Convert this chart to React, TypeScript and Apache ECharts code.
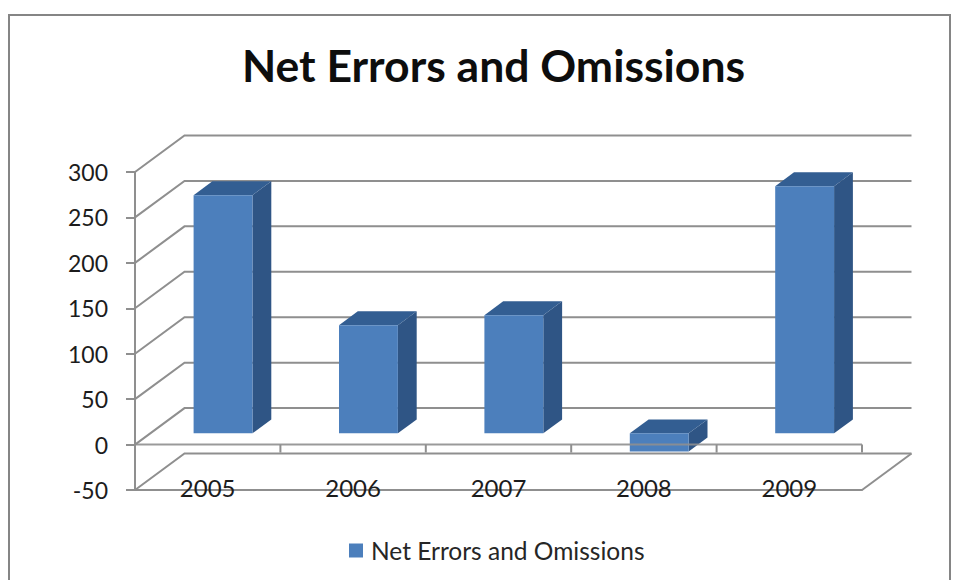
import React, { useEffect, useRef } from "react";
import * as echarts from "echarts";

const chartTitle = "Net Errors and Omissions";
const seriesName = "Net Errors and Omissions";
const years = ["2005", "2006", "2007", "2008", "2009"];
const netErrors = [262, 119, 130, -20, 272];
const axisTicks = [-50, 0, 50, 100, 150, 200, 250, 300];

const FONT = "Lato, 'Open Sans', sans-serif";
const GRID_COLOR = "#8f8f8f";
const TEXT_COLOR = "#1c1c1c";
// Oblique projection of the box: total depth, and how deep the bars sit in it.
const DEPTH_X = 49.5;
const DEPTH_Y = -36.5;
const BAR_INSET = 0.31;
const BAR_DEPTH = 0.38;
const BAR_WIDTH_RATIO = 0.405;

const lineStyle = { stroke: GRID_COLOR, lineWidth: 2, fill: "none" };

function renderWalls(params: any, api: any) {
  const cs = params.coordSys;
  const v = api.value(1);
  const y = api.coord([0, v])[1];
  const x0 = cs.x;
  const x1 = cs.x + cs.width;
  const points = [
    [x0, y],
    [x0 + DEPTH_X, y + DEPTH_Y],
    [x1 + DEPTH_X, y + DEPTH_Y],
  ];
  const children: any[] = [{ type: "polyline", shape: { points }, style: lineStyle }];
  if (v === -50) {
    children.push({
      type: "line",
      shape: { x1, y1: y, x2: x1 + DEPTH_X, y2: y + DEPTH_Y },
      style: lineStyle,
    });
  }
  return { type: "group", children };
}

function renderBar(params: any, api: any) {
  const idx = api.value(0);
  const val = api.value(1);
  const slot = api.size([1, 0])[0];
  const w = slot * BAR_WIDTH_RATIO;
  const insetX = DEPTH_X * BAR_INSET;
  const insetY = DEPTH_Y * BAR_INSET;
  const dx = DEPTH_X * BAR_DEPTH;
  const dy = DEPTH_Y * BAR_DEPTH;
  const cx = api.coord([idx, 0])[0] + insetX;
  const yZero = api.coord([idx, 0])[1] + insetY;
  const yVal = api.coord([idx, val])[1] + insetY;
  const top = Math.min(yZero, yVal);
  const bottom = Math.max(yZero, yVal);
  const l = cx - w / 2;
  const r = cx + w / 2;
  return {
    type: "group",
    children: [
      {
        type: "polygon",
        shape: { points: [[r, top], [r + dx, top + dy], [r + dx, bottom + dy], [r, bottom]] },
        style: { fill: "#2f5585" },
      },
      {
        type: "polygon",
        shape: { points: [[l, top], [l + dx, top + dy], [r + dx, top + dy], [r, top]] },
        style: { fill: "#335e92" },
      },
      {
        type: "rect",
        shape: { x: l, y: top, width: w, height: bottom - top },
        style: { fill: "#4c7fbc" },
      },
    ],
  };
}

// The front edge of the zero plane, with its category ticks, passes in front of the bars.
function renderZeroEdge(params: any, api: any) {
  const cs = params.coordSys;
  const y = api.coord([0, 0])[1];
  const slot = cs.width / years.length;
  const drop = 8;
  const children: any[] = [
    {
      type: "line",
      shape: { x1: cs.x, y1: y, x2: cs.x + cs.width, y2: y },
      style: { stroke: GRID_COLOR, lineWidth: 2, opacity: 0.9 },
    },
  ];
  for (let i = 0; i <= years.length; i++) {
    const x = cs.x + slot * i;
    children.push({
      type: "line",
      shape: { x1: x, y1: y, x2: x, y2: y + drop },
      style: { stroke: GRID_COLOR, lineWidth: 2 },
    });
  }
  return { type: "group", children };
}

export default function App() {
  const ref = useRef<HTMLDivElement>(null);

  useEffect(() => {
    document.body.style.margin = "0";
    const chart = echarts.init(ref.current!, null, { renderer: "svg" });
    chart.setOption({
      animation: false,
      backgroundColor: "#ffffff",
      textStyle: { fontFamily: FONT },
      title: {
        text: chartTitle,
        left: 488.5,
        top: 37,
        textAlign: "center",
        textStyle: { fontFamily: FONT, fontSize: 44.5, fontWeight: "bold", color: "#0d0d0d" },
      },
      legend: {
        left: 344,
        top: 533,
        icon: "rect",
        itemWidth: 14,
        itemHeight: 14,
        itemGap: 8,
        data: [seriesName],
        textStyle: { fontFamily: FONT, fontSize: 24.5, color: "#262626", padding: [0, 0, 0, 3] },
      },
      graphic: [
        {
          type: "rect",
          shape: { x: 9, y: 15, width: 941, height: 600 },
          style: { fill: "none", stroke: "#858585", lineWidth: 2 },
          silent: true,
        },
      ],
      grid: { left: 135, right: 98, top: 172, bottom: 90 },
      xAxis: {
        type: "category",
        data: years,
        axisLine: { onZero: false, lineStyle: { color: GRID_COLOR, width: 2 } },
        axisTick: { show: false },
        axisLabel: { margin: -15, fontSize: 24, color: TEXT_COLOR, fontFamily: FONT },
      },
      yAxis: {
        type: "value",
        min: -50,
        max: 300,
        interval: 50,
        splitLine: { show: false },
        axisLine: { show: true, lineStyle: { color: GRID_COLOR, width: 2 } },
        axisTick: { show: true, length: 9, lineStyle: { color: GRID_COLOR, width: 2 } },
        axisLabel: { margin: 27, fontSize: 23, color: TEXT_COLOR, fontFamily: FONT },
      },
      series: [
        {
          type: "custom",
          name: "walls",
          z: 1,
          silent: true,
          renderItem: renderWalls,
          data: axisTicks.map((t) => [0, t]),
        },
        {
          type: "custom",
          name: seriesName,
          z: 2,
          silent: true,
          itemStyle: { color: "#4c7fbc" },
          renderItem: renderBar,
          data: netErrors.map((v, i) => [i, v]),
        },
        {
          type: "custom",
          name: "zeroEdge",
          z: 3,
          silent: true,
          renderItem: renderZeroEdge,
          data: [[0, 0]],
        },
      ],
    });
    return () => chart.dispose();
  }, []);

  return <div ref={ref} style={{ width: 960, height: 580 }} />;
}
